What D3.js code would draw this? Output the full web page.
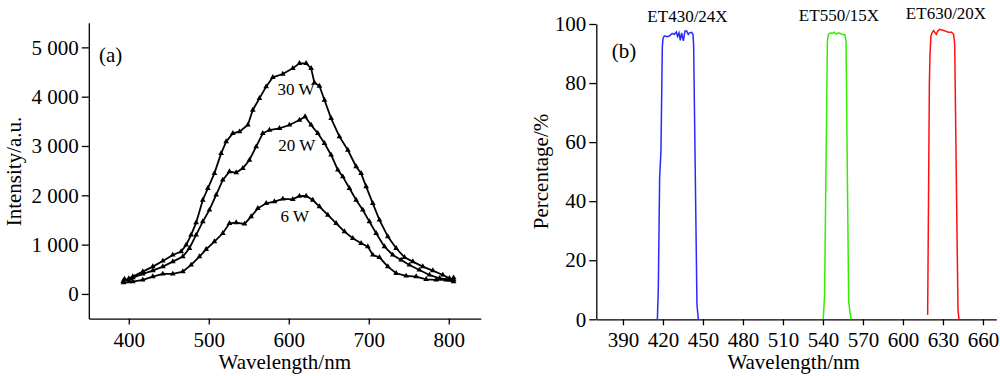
<!DOCTYPE html>
<html>
<head>
<meta charset="utf-8">
<script src="https://cdn.jsdelivr.net/npm/d3@7"></script>
<style>
  body { margin: 0; background: #fff; }
  svg { display: block; font-family: "Liberation Serif", "Times New Roman", serif; }
  .axis path, .axis line { stroke: #000; stroke-width: 1.3; }
  .axis text { font-family: "Liberation Serif", serif; font-size: 21px; fill: #000; }
</style>
</head>
<body>
<svg width="1000" height="376"></svg>
<script>
// ---- panel (a): emission spectra, wavelength (nm) vs intensity (a.u.)
let wl30 = [393, 400, 405, 417.5, 430, 442.5, 455, 465.4, 471.7, 477.9, 484.2, 492.5, 498.8, 507, 515.4, 521.7, 530, 538.3, 548.8, 555, 563.3, 571.7, 580, 592.5, 605, 613.3, 621.7, 627.9, 632, 638.3, 644.6, 652.9, 663.3, 673.8, 684.2, 690.4, 696.7, 705, 713.3, 723.8, 734.2, 744.6, 755, 767.5, 780, 792.5, 800.8, 806];
let int30 = [260, 310, 351, 453, 554, 669, 790, 858, 993, 1196, 1446, 1905, 2142, 2446, 2851, 3088, 3257, 3290, 3426, 3730, 3966, 4203, 4392, 4459, 4574, 4676, 4676, 4574, 4284, 4216, 3932, 3561, 3189, 2919, 2581, 2446, 2176, 1838, 1500, 1162, 926, 743, 655, 554, 473, 385, 318, 290];

let wl20 = [394.6, 400, 405, 417.5, 430, 442.5, 455, 467.5, 475.8, 484.2, 492.5, 500.8, 509.2, 517.5, 525.8, 534.2, 542.5, 550.8, 559.2, 567.5, 575.8, 588.3, 600.8, 613.3, 620.4, 627.9, 636.3, 644.6, 652.9, 661.3, 667.5, 675.8, 684.2, 692.5, 700.8, 709.2, 719.6, 730, 740.4, 750.8, 763.3, 775.8, 788.3, 800.8, 806];
let int20 = [300, 250, 330, 405, 473, 554, 655, 757, 926, 1196, 1466, 1703, 2007, 2311, 2480, 2460, 2547, 2716, 2986, 3257, 3324, 3358, 3426, 3527, 3595, 3426, 3257, 3054, 2818, 2514, 2378, 2142, 1905, 1703, 1466, 1230, 959, 790, 689, 588, 486, 385, 318, 284, 330];

let wl6 = [393.3, 405, 417.5, 430, 442.5, 455, 467.5, 477.9, 488.3, 496.7, 507, 517.5, 525.8, 534.2, 544.6, 552.9, 561.3, 571.7, 582, 592.5, 605, 613.3, 621.7, 630, 638.3, 648.8, 659.2, 669.6, 680, 690.4, 698.8, 705, 713.3, 723.8, 734.2, 746.7, 759.2, 771.7, 784.2, 796.7, 806];
let int6 = [230, 250, 284, 351, 405, 405, 453, 588, 757, 905, 1061, 1230, 1432, 1446, 1419, 1568, 1736, 1838, 1872, 1926, 1919, 1986, 1986, 1905, 1770, 1601, 1432, 1264, 1128, 1027, 959, 790, 743, 554, 419, 365, 351, 297, 284, 284, 250];

let powerNames = ["30 W", "20 W", "6 W"];
let powerLabelPos = [[609, 4030], [610, 2890], [607.5, 1450]]; // wavelength, intensity at label baseline

let aTicksX = [400, 500, 600, 700, 800];
let aTicksY = [0, 1000, 2000, 3000, 4000, 5000];

// ---- panel (b): filter transmission, wavelength (nm) vs percentage
let filterNames = ["ET430/24X", "ET550/15X", "ET630/20X"];
let filterColors = ["#2a2aff", "#33ee00", "#ff1010"];

let wlBlue = [415.8, 416.5, 417.5, 418.5, 419.5, 420, 421, 423, 425, 427, 428.5, 430, 431, 432, 433, 434, 435.3, 436.5, 437.8, 439, 440, 441.5, 442.5, 443, 444.5, 445.5, 446.5];
let pBlue = [0, 10, 48, 57, 92, 95, 96, 95.7, 96, 96.8, 96.5, 97.3, 95.8, 97, 94.5, 97, 94.3, 97.6, 97.6, 96.5, 97, 97.2, 96.5, 93, 40, 5, 0];

let wlGreen = [540.2, 541.2, 542.5, 543.3, 544, 545.5, 547, 548.5, 550, 551.5, 553, 554.5, 556.5, 557.3, 558.5, 559.3, 561];
let pGreen = [0, 8, 60, 94, 96.5, 97, 96.8, 97.2, 96.6, 97, 96.8, 96.5, 96.3, 94, 40, 6, 0];

let wlRed = [618.5, 619, 619.8, 620.3, 621, 622, 623, 624, 625, 626, 627.5, 629, 630.5, 632, 633.5, 635, 636.5, 638, 638.8, 640.5, 641.3, 642];
let pRed = [1.5, 30, 80, 90, 96, 97.2, 97.8, 97, 96.5, 97.6, 98.2, 98, 97.8, 97.6, 97.3, 97.2, 97.2, 96.5, 93, 30, 3, 0];

let filterLabelPos = [[687.5, 21.5], [839, 21], [946, 19]];

let bTicksX = [390, 420, 450, 480, 510, 540, 570, 600, 630, 660];
let bTicksY = [0, 20, 40, 60, 80, 100];

const svg = d3.select("svg");
svg.append("rect").attr("width", 1000).attr("height", 376).attr("fill", "#fff");

const spaceFmt = d3.formatLocale({ decimal: ".", thousands: " ", grouping: [3], currency: ["", ""] }).format(",d");

// ================= panel (a)
function drawPanelA() {
    let scX = d3.scaleLinear().domain([350, 840]).range([88.8, 480.8]);
    let scY = d3.scaleLinear().domain([-500, 5500]).range([318.6, 22.7]);

    svg.append("g")
        .attr("class", "axis")
        .attr("transform", `translate(0, ${scY.range()[0]})`)
        .call(d3.axisBottom(scX).tickValues(aTicksX).tickSize(6).tickSizeOuter(0).tickPadding(7));

    svg.append("g")
        .attr("class", "axis")
        .attr("transform", `translate(${scX.range()[0]}, 0)`)
        .call(d3.axisLeft(scY).tickValues(aTicksY).tickFormat(spaceFmt).tickSize(7).tickSizeOuter(0).tickPadding(3));

    let series = [[wl30, int30], [wl20, int20], [wl6, int6]];
    let line = d3.line().x((d) => scX(d[0])).y((d) => scY(d[1]));
    let tri = d3.symbol().type(d3.symbolTriangle).size(14);

    series.forEach((s, i) => {
        let pts = s[0].map((w, k) => [w, s[1][k]]);
        svg.append("path")
            .attr("d", line(pts))
            .attr("fill", "none")
            .attr("stroke", "#000")
            .attr("stroke-width", 1.8);
        svg.append("g").selectAll("path")
            .data(pts)
            .enter()
            .append("path")
            .attr("d", tri)
            .attr("transform", (d) => `translate(${scX(d[0])}, ${scY(d[1])})`)
            .attr("fill", "#000");
        svg.append("text")
            .attr("x", scX(powerLabelPos[i][0]))
            .attr("y", scY(powerLabelPos[i][1]))
            .attr("text-anchor", "middle")
            .attr("font-size", 17)
            .text(powerNames[i]);
    });

    svg.append("text").attr("x", 99).attr("y", 62).attr("font-size", 21).text("(a)");

    svg.append("text")
        .attr("x", scX(595))
        .attr("y", 369)
        .attr("text-anchor", "middle")
        .attr("font-size", 21)
        .text("Wavelength/nm");

    svg.append("text")
        .attr("transform", "translate(21, 171.5) rotate(-90)")
        .attr("text-anchor", "middle")
        .attr("font-size", 21)
        .text("Intensity/a.u.");
}

// ================= panel (b)
function drawPanelB() {
    let scX = d3.scaleLinear().domain([370, 670]).range([596.3, 996.3]);
    let scY = d3.scaleLinear().domain([0, 100]).range([319.3, 24]);

    svg.append("g")
        .attr("class", "axis")
        .attr("transform", `translate(0, ${scY(0)})`)
        .call(d3.axisBottom(scX).tickValues(bTicksX).tickSize(6).tickSizeOuter(0).tickPadding(7));

    svg.append("g")
        .attr("class", "axis")
        .attr("transform", `translate(${scX(370)}, 0)`)
        .call(d3.axisLeft(scY).tickValues(bTicksY).tickSize(7).tickSizeOuter(0).tickPadding(3));

    let series = [[wlBlue, pBlue], [wlGreen, pGreen], [wlRed, pRed]];
    let line = d3.line().x((d) => scX(d[0])).y((d) => scY(d[1]));

    series.forEach((s, i) => {
        let pts = s[0].map((w, k) => [w, s[1][k]]);
        svg.append("path")
            .attr("d", line(pts))
            .attr("fill", "none")
            .attr("stroke", filterColors[i])
            .attr("stroke-width", 1.5);
        svg.append("text")
            .attr("x", filterLabelPos[i][0])
            .attr("y", filterLabelPos[i][1])
            .attr("text-anchor", "middle")
            .attr("font-size", 17)
            .text(filterNames[i]);
    });

    svg.append("text").attr("x", 611.7).attr("y", 58).attr("font-size", 21).text("(b)");

    svg.append("text")
        .attr("x", scX(518))
        .attr("y", 369)
        .attr("text-anchor", "middle")
        .attr("font-size", 21)
        .text("Wavelength/nm");

    svg.append("text")
        .attr("transform", "translate(548, 171.5) rotate(-90)")
        .attr("text-anchor", "middle")
        .attr("font-size", 21)
        .text("Percentage/%");
}

drawPanelA();
drawPanelB();
</script>
</body>
</html>
